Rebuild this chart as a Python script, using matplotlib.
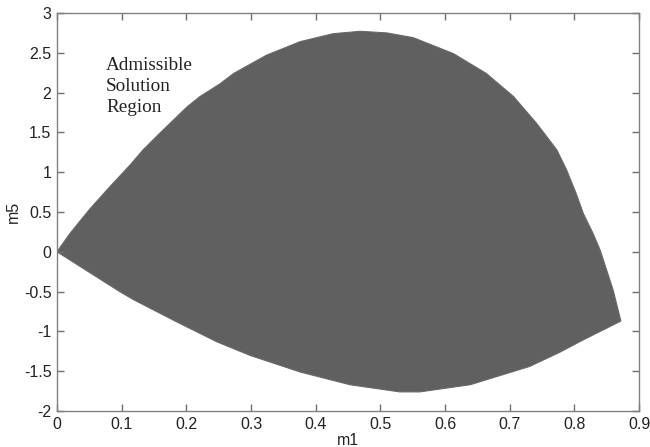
import matplotlib
matplotlib.use("Agg")
import matplotlib.pyplot as plt

# Upper boundary of the admissible region (m1, m5)
upper_m1 = [0.0, 0.020, 0.051, 0.082, 0.113, 0.133, 0.159, 0.201, 0.221, 0.252,
            0.273, 0.324, 0.376, 0.427, 0.469, 0.510, 0.551, 0.613, 0.664, 0.706,
            0.742, 0.773, 0.788, 0.803, 0.814, 0.829, 0.840, 0.860, 0.872]
upper_m5 = [0.0, 0.23, 0.54, 0.82, 1.09, 1.28, 1.49, 1.82, 1.95, 2.11,
            2.24, 2.47, 2.64, 2.74, 2.77, 2.75, 2.69, 2.49, 2.24, 1.95,
            1.61, 1.28, 1.03, 0.73, 0.48, 0.23, 0.02, -0.48, -0.87]

# Lower boundary of the admissible region (m1, m5)
lower_m1 = [0.0, 0.097, 0.118, 0.185, 0.247, 0.298, 0.376, 0.453, 0.530, 0.561,
            0.639, 0.731, 0.778, 0.813, 0.872]
lower_m5 = [0.0, -0.50, -0.60, -0.88, -1.13, -1.30, -1.51, -1.67, -1.76, -1.76,
            -1.67, -1.44, -1.26, -1.11, -0.87]

x_ticks = [0, 0.1, 0.2, 0.3, 0.4, 0.5, 0.6, 0.7, 0.8, 0.9]
x_tick_labels = ["0", "0.1", "0.2", "0.3", "0.4", "0.5", "0.6", "0.7", "0.8", "0.9"]
y_ticks = [-2, -1.5, -1, -0.5, 0, 0.5, 1, 1.5, 2, 2.5, 3]
y_tick_labels = ["-2", "-1.5", "-1", "-0.5", "0", "0.5", "1", "1.5", "2", "2.5", "3"]

annotation = "Admissible\nSolution\nRegion"

fig = plt.figure(figsize=(6.5, 4.47), dpi=100)
ax = fig.add_axes([57 / 650, 36 / 447, 582 / 650, 398 / 447])

poly_x = upper_m1 + lower_m1[::-1]
poly_y = upper_m5 + lower_m5[::-1]
ax.fill(poly_x, poly_y, color="#606060", linewidth=0.8, edgecolor="#686868")

ax.set_xlim(0, 0.9)
ax.set_ylim(-2, 3)
ax.set_xticks(x_ticks)
ax.set_xticklabels(x_tick_labels)
ax.set_yticks(y_ticks)
ax.set_yticklabels(y_tick_labels)

for s in ax.spines.values():
    s.set_color("#808080")
    s.set_linewidth(1.0)
ax.tick_params(direction="in", length=5, width=1, color="#707070",
               top=True, right=True, labelsize=11.5, labelcolor="#222222", pad=4)
for lab in ax.get_xticklabels() + ax.get_yticklabels():
    lab.set_family("Liberation Sans")

ax.set_xlabel("m1", fontsize=11.5, family="Liberation Sans", color="#222222", labelpad=1)
ax.set_ylabel("m5", fontsize=11.5, family="Liberation Sans", color="#222222", labelpad=2)

ax.text(0.076, 2.45, annotation, family="Liberation Serif", fontsize=13.8,
        va="top", ha="left", color="#222222", linespacing=1.3)

fig.savefig("out.png", dpi=100)
